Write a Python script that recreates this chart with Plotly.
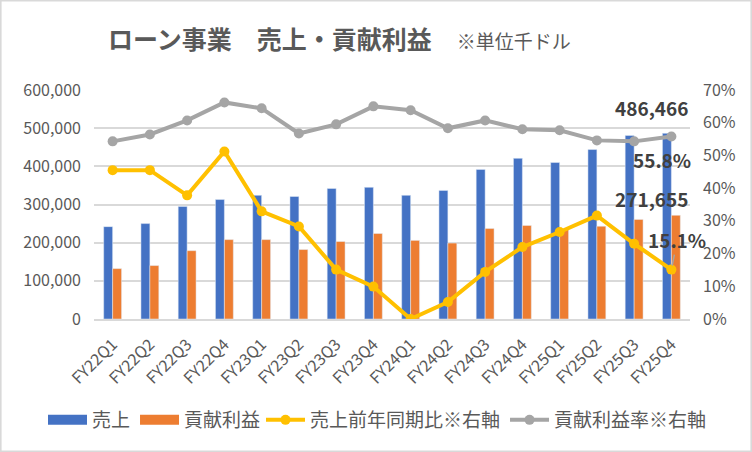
import plotly.graph_objects as go

# data (thousand USD / %)
quarters = ["FY22Q1", "FY22Q2", "FY22Q3", "FY22Q4", "FY23Q1", "FY23Q2", "FY23Q3", "FY23Q4",
            "FY24Q1", "FY24Q2", "FY24Q3", "FY24Q4", "FY25Q1", "FY25Q2", "FY25Q3", "FY25Q4"]
sales = [242000, 250000, 295000, 313000, 324000, 321000, 342000, 345000,
         324000, 337000, 392000, 421000, 410000, 444000, 481000, 486466]
contrib = [132000, 140000, 179000, 208000, 208000, 182000, 203000, 224000,
           206000, 199000, 237000, 245000, 235000, 243000, 261000, 271655]
sales_yoy = [45.5, 45.5, 37.8, 51.2, 32.9, 28.3, 15.1, 9.9,
             0.0, 5.2, 14.4, 22.0, 26.6, 31.6, 23.0, 15.1]
margin_rate = [54.3, 56.4, 60.7, 66.2, 64.4, 56.7, 59.5, 65.0,
               63.8, 58.3, 60.7, 58.0, 57.7, 54.6, 54.3, 55.8]

W, H = 752, 452
ML, MR, MT, MB = 94, 62, 90, 133
pw, ph = W - ML - MR, H - MT - MB

font = "Noto Sans CJK JP"
txt = "#595959"
c_blue, c_orange, c_gold, c_gray = "#4472C4", "#ED7D31", "#FFC000", "#A5A5A5"

fig = go.Figure()
fig.add_trace(go.Bar(x=quarters, y=sales, name="売上", marker_color=c_blue, showlegend=False))
fig.add_trace(go.Bar(x=quarters, y=contrib, name="貢献利益", marker_color=c_orange, showlegend=False))
# legend-only entries so the bar keys are drawn as wide blocks like the original
fig.add_trace(go.Scatter(x=[None], y=[None], name="売上", mode="lines",
                         line=dict(color=c_blue, width=11), legend="legend"))
fig.add_trace(go.Scatter(x=[None], y=[None], name="貢献利益", mode="lines",
                         line=dict(color=c_orange, width=11), legend="legend"))
fig.add_trace(go.Scatter(x=quarters, y=sales_yoy, name="売上前年同期比※右軸", yaxis="y2",
                         mode="lines+markers", line=dict(color=c_gold, width=4),
                         marker=dict(size=10, color=c_gold), legend="legend2"))
fig.add_trace(go.Scatter(x=quarters, y=margin_rate, name="貢献利益率※右軸", yaxis="y2",
                         mode="lines+markers", line=dict(color=c_gray, width=4),
                         marker=dict(size=10, color=c_gray), legend="legend2"))

lab = dict(size=19, color="#404040", family=font)
last = quarters[-1]
fig.add_annotation(x=last, y=sales[-1], text="<b>{:,}</b>".format(sales[-1]),
                   showarrow=False, xshift=-20, yshift=26, font=lab)
fig.add_annotation(x=last, y=contrib[-1], text="<b>{:,}</b>".format(contrib[-1]),
                   showarrow=False, xshift=-20, yshift=17, font=lab)
fig.add_annotation(x=last, y=margin_rate[-1], yref="y2", text="<b>{:.1f}%</b>".format(margin_rate[-1]),
                   showarrow=False, xshift=-9, yshift=-23, font=lab)
fig.add_annotation(x=last, y=sales_yoy[-1], yref="y2", text="<b>{:.1f}%</b>".format(sales_yoy[-1]),
                   showarrow=True, arrowhead=0, arrowwidth=1.5, arrowcolor=c_gray,
                   ax=6, ay=-30, standoff=4, font=lab)

leg = dict(orientation="h", xref="container", yref="container", xanchor="left",
           y=1 - 420 / H, yanchor="middle", font=dict(size=19, color=txt),
           itemwidth=39, bgcolor="rgba(0,0,0,0)")

fig.update_layout(
    width=W, height=H,
    margin=dict(l=ML, r=MR, t=MT, b=MB, autoexpand=False),
    paper_bgcolor="white", plot_bgcolor="white",
    font=dict(family=font, color=txt),
    barmode="group", bargap=0.52, bargroupgap=0,
    title=dict(text="<b>ローン事業　売上・貢献利益</b>　<span style='font-size:19px'>※単位千ドル</span>",
               xref="container", x=108 / W, xanchor="left",
               yref="container", y=1 - 40 / H, yanchor="middle",
               font=dict(size=25, color=txt, family=font)),
    xaxis=dict(range=[-0.5, len(quarters) - 0.5], tickangle=-45,
               tickfont=dict(size=16, color=txt), showgrid=False, automargin=False,
               showline=True, linecolor="#D9D9D9", linewidth=1.5, ticks="", ticklabelstandoff=8),
    yaxis=dict(range=[0, 600000], dtick=100000, tickformat=",", tickfont=dict(size=16, color=txt),
               showgrid=True, gridcolor="#D9D9D9", gridwidth=1.5, zeroline=False, ticks="",
               automargin=False, ticklabelstandoff=12),
    yaxis2=dict(range=[0, 70], dtick=10, ticksuffix="%", overlaying="y", side="right",
                tickfont=dict(size=16, color=txt), showgrid=False, zeroline=False,
                automargin=False, ticklabelstandoff=12),
    legend=dict(leg, x=43 / W),
    legend2=dict(leg, x=261 / W),
    shapes=[dict(type="rect", xref="paper", yref="paper",
                 x0=-ML / pw + 0.001, x1=1 + MR / pw - 0.001,
                 y0=-MB / ph + 0.002, y1=1 + MT / ph - 0.002,
                 line=dict(color="#D9D9D9", width=2))],
)

fig.write_html("out.html", config={"displayModeBar": False},
               post_script="document.body.style.margin='0';")
